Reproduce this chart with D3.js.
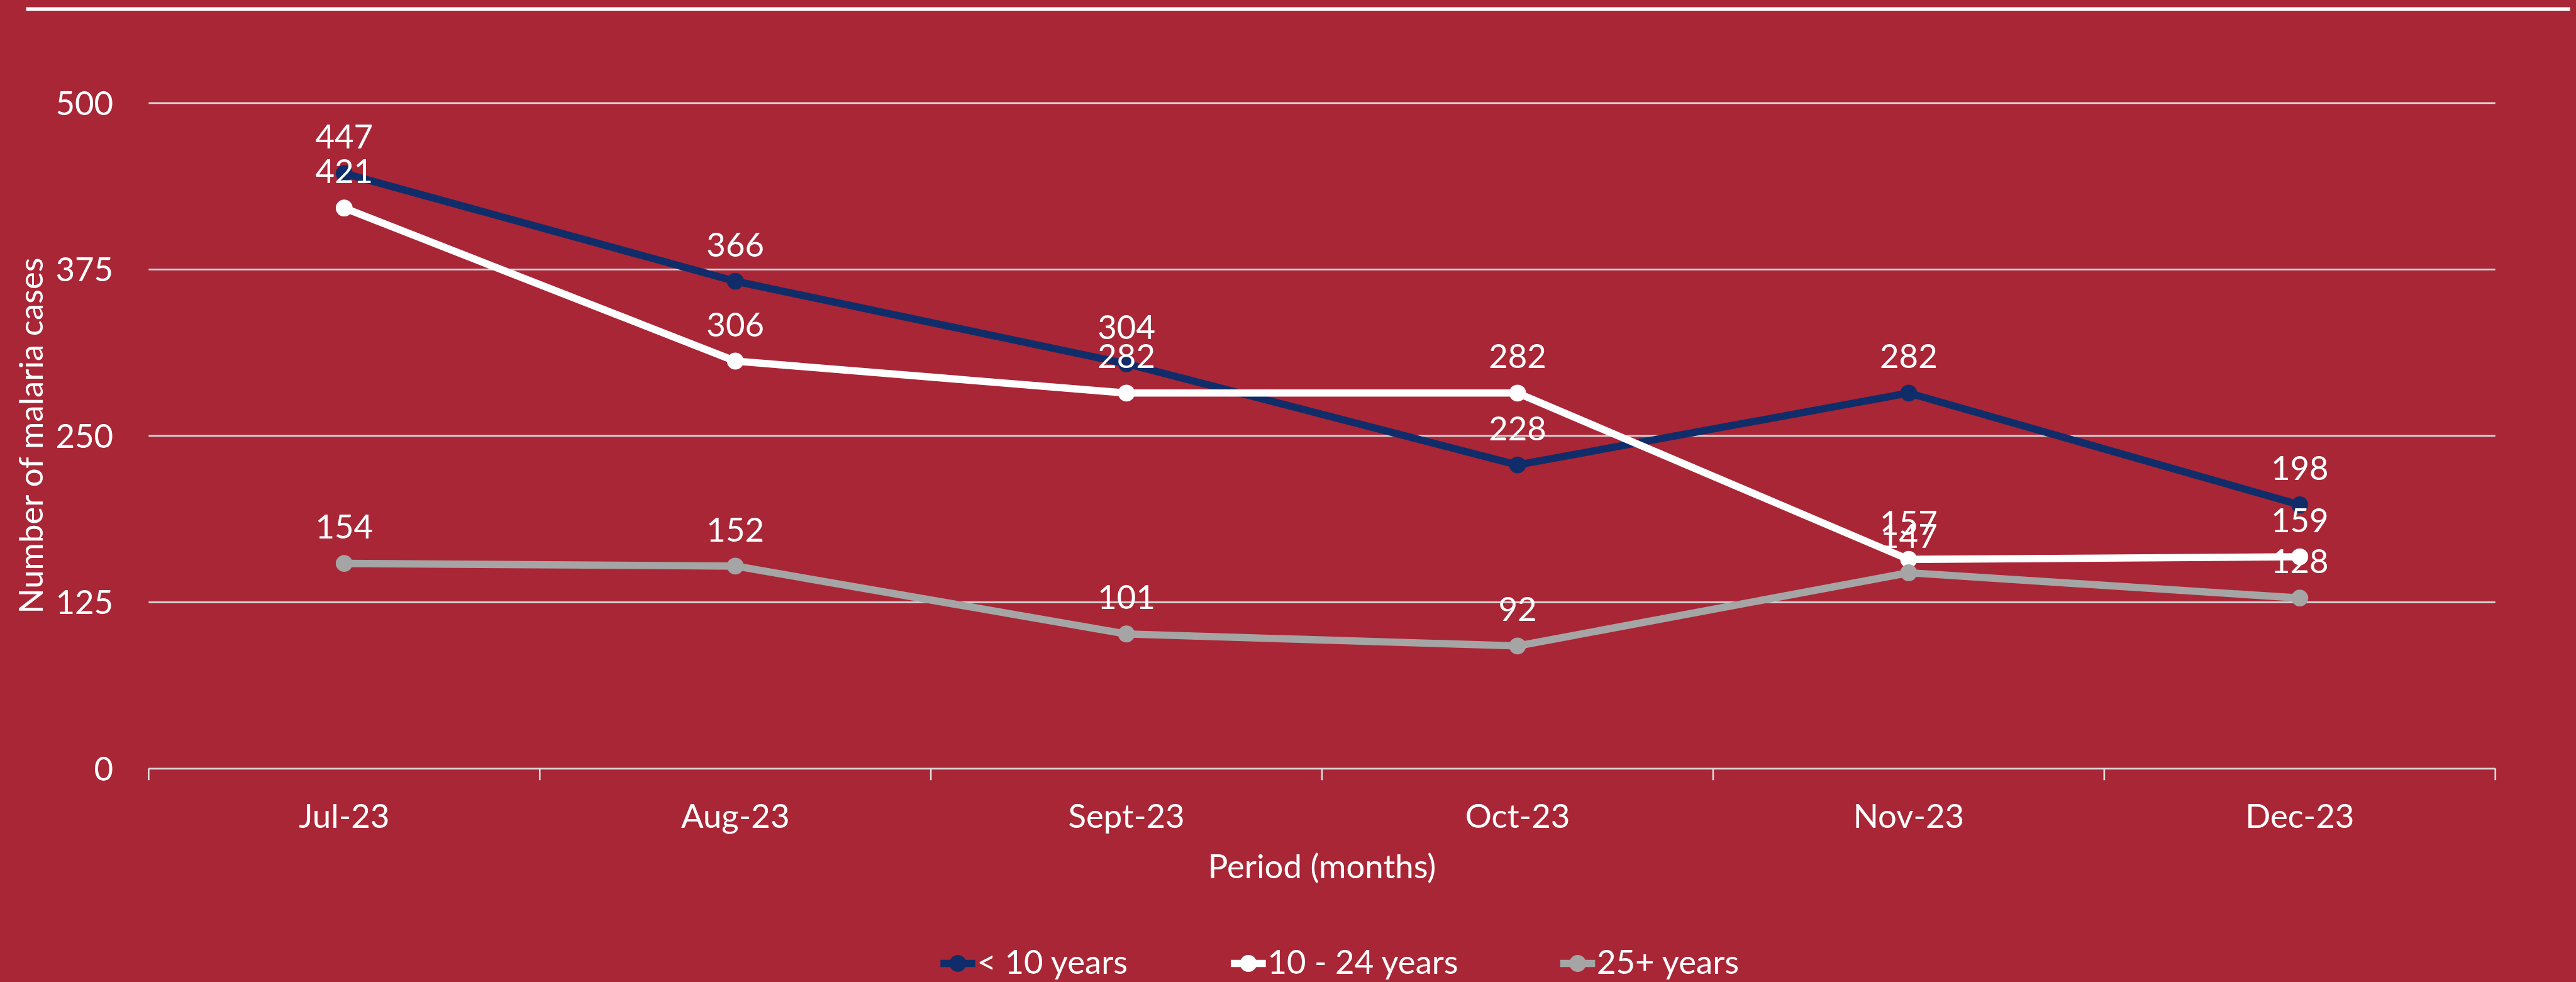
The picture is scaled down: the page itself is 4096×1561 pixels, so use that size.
<!DOCTYPE html>
<html>
<head>
<meta charset="utf-8">
<script src="https://cdn.jsdelivr.net/npm/d3@7"></script>
<style>
  html, body { margin: 0; padding: 0; background: #A92636; overflow: hidden; }
  svg { display: block; }
  text { font-family: Lato, "Open Sans", sans-serif; fill: #ffffff; }
</style>
</head>
<body>
<svg id="chart"></svg>
<script>
// chart data
const months = ["Jul-23", "Aug-23", "Sept-23", "Oct-23", "Nov-23", "Dec-23"];
const under10 = [447, 366, 304, 228, 282, 198];
const age10to24 = [421, 306, 282, 282, 157, 159];
const age25plus = [154, 152, 101, 92, 147, 128];
const seriesNames = ["< 10 years", "10 - 24 years", "25+ years"];
const seriesColors = ["#102D69", "#FFFFFF", "#A5A5A5"];
const yTicks = [0, 125, 250, 375, 500];

// reference is 4583x1747, drawn into a 4096x1561 window
const W = 4583, H = 1747;
const svg = d3.select("#chart")
    .attr("width", 4096)
    .attr("height", 1561)
    .attr("viewBox", "0 0 " + W + " " + H);

const plotLeft = 264, plotRight = 4440, plotTop = 183, plotBottom = 1367;
const fontSize = 59;

svg.append("rect")
    .attr("width", W).attr("height", H)
    .attr("fill", "#A92636");

// white rule across the top
svg.append("line")
    .attr("x1", 46).attr("x2", 4573)
    .attr("y1", 16).attr("y2", 16)
    .attr("stroke", "#ffffff")
    .attr("stroke-width", 6);

let x = d3.scaleBand().domain(months).range([plotLeft, plotRight]);
let y = d3.scaleLinear().domain([0, 500]).range([plotBottom, plotTop]);

// gridlines + y labels
let yAxis = svg.append("g")
    .attr("transform", "translate(" + plotLeft + ",0)")
    .call(d3.axisLeft(y).tickValues(yTicks).tickSize(-(plotRight - plotLeft)).tickPadding(63));
yAxis.select(".domain").remove();
yAxis.selectAll(".tick line")
    .attr("stroke", "#D9D9D9")
    .attr("stroke-width", 3);
yAxis.selectAll(".tick text")
    .attr("font-size", fontSize)
    .attr("fill", "#ffffff")
    .attr("dy", "0.36em");

// x axis labels
let xAxis = svg.append("g")
    .attr("transform", "translate(0," + plotBottom + ")")
    .call(d3.axisBottom(x).tickSize(0).tickPadding(106));
xAxis.select(".domain").remove();
xAxis.selectAll(".tick text")
    .attr("font-size", fontSize)
    .attr("fill", "#ffffff")
    .attr("dy", 0);

// tick marks between categories
let bounds = d3.range(months.length + 1).map(i => plotLeft + i * x.step());
svg.append("g").selectAll("line")
    .data(bounds)
    .join("line")
    .attr("x1", d => d).attr("x2", d => d)
    .attr("y1", plotBottom).attr("y2", plotBottom + 21)
    .attr("stroke", "#D9D9D9")
    .attr("stroke-width", 3);

// axis titles
svg.append("text")
    .attr("transform", "translate(76," + (plotTop + plotBottom) / 2 + ") rotate(-90)")
    .attr("text-anchor", "middle")
    .attr("font-size", fontSize)
    .text("Number of malaria cases");

svg.append("text")
    .attr("x", (plotLeft + plotRight) / 2)
    .attr("y", 1562)
    .attr("text-anchor", "middle")
    .attr("font-size", fontSize)
    .text("Period (months)");

// lines
const allSeries = [under10, age10to24, age25plus];
let cx = d => x(d) + x.bandwidth() / 2;
let line = d3.line()
    .x((d, i) => cx(months[i]))
    .y(d => y(d));

allSeries.forEach((values, s) => {
    svg.append("path")
        .datum(values)
        .attr("d", line)
        .attr("fill", "none")
        .attr("stroke", seriesColors[s])
        .attr("stroke-width", 13)
        .attr("stroke-linejoin", "round");
    svg.append("g").selectAll("circle")
        .data(values)
        .join("circle")
        .attr("cx", (d, i) => cx(months[i]))
        .attr("cy", d => y(d))
        .attr("r", 15)
        .attr("fill", seriesColors[s]);
});

// data labels
allSeries.forEach((values, s) => {
    svg.append("g").selectAll("text")
        .data(values)
        .join("text")
        .attr("x", (d, i) => cx(months[i]))
        .attr("y", d => y(d) - 44)
        .attr("text-anchor", "middle")
        .attr("font-size", fontSize)
        .text(d => d);
});

// legend
const legendX = [1704, 2221, 2807];
let legend = svg.append("g");
seriesNames.forEach((name, i) => {
    let lx = legendX[i], ly = 1714;
    legend.append("line")
        .attr("x1", lx - 31).attr("x2", lx + 31)
        .attr("y1", ly).attr("y2", ly)
        .attr("stroke", seriesColors[i])
        .attr("stroke-width", 13);
    legend.append("circle")
        .attr("cx", lx).attr("cy", ly).attr("r", 15)
        .attr("fill", seriesColors[i]);
    legend.append("text")
        .attr("x", lx + 34)
        .attr("y", 1733)
        .attr("font-size", fontSize)
        .text(name);
});
</script>
</body>
</html>
